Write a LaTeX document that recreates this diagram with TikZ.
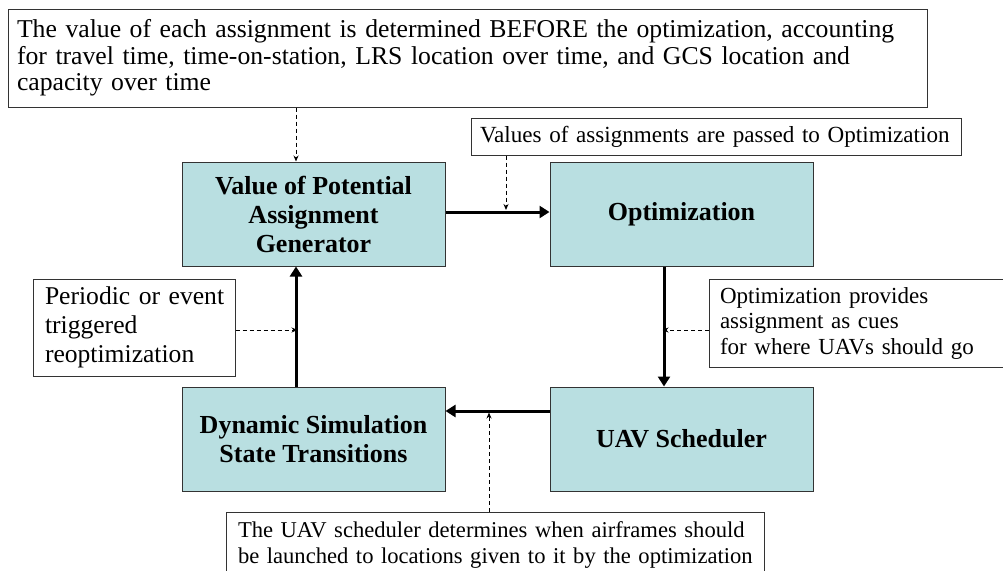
\documentclass[tikz,border=0pt]{standalone}
\usepackage{fontspec}
\setmainfont{Liberation Serif}
\usetikzlibrary{arrows.meta}
\definecolor{boxfill}{HTML}{B9DFE1}
\definecolor{edge}{HTML}{333333}
\begin{document}
\begin{tikzpicture}[x=1pt,y=-1pt,
  mainbox/.style={draw=edge,line width=1pt,fill=boxfill,minimum width=263pt,minimum height=104pt,inner sep=0pt,align=center,font=\fontsize{26}{29}\selectfont\bfseries},
  note/.style={draw=edge,line width=1pt,fill=white,inner ysep=0pt,align=left},
  flow/.style={line width=3pt,-{Triangle[length=10pt,width=12pt]}},
  cue/.style={line width=1pt,dash pattern=on 4pt off 3pt,-{Stealth[length=6pt,width=5pt]}}]
\useasboundingbox (0,0) rectangle (1003,570);
% main boxes
\node[mainbox] (value) at (313.5,214) {Value of Potential\\Assignment\\Generator};
\node[mainbox] (opt) at (681.5,214) {Optimization};
\node[mainbox] (dyn) at (313.5,439) {Dynamic Simulation\\State Transitions};
\node[mainbox] (uav) at (681.5,439) {UAV Scheduler};
% notes
\node[note,inner xsep=9pt,text width=901pt,minimum height=98pt,font=\fontsize{25.7}{26.5}\selectfont] (top) at (467.5,58)
 {\mbox{The value of each assignment is determined BEFORE the optimization, accounting}\\\mbox{for travel time, time-on-station, LRS location over time, and GCS location and}\\\mbox{capacity over time}};
\node[note,inner xsep=9pt,text width=472pt,minimum height=37pt,font=\fontsize{23.1}{26}\selectfont] (vals) at (716,136.5)
 {\mbox{Values of assignments are passed to Optimization}};
\node[note,inner xsep=12pt,text width=178pt,minimum height=97pt,font=\fontsize{25.6}{29}\selectfont] (per) at (134,327.5)
 {\rule{0pt}{8pt}\mbox{Periodic or event}\\\mbox{triggered}\\\mbox{reoptimization}};
\node[note,inner xsep=11pt,text width=280pt,minimum height=88pt,font=\fontsize{23}{25.5}\selectfont] (prov) at (860,323)
 {\mbox{Optimization provides}\\\mbox{assignment as cues}\\\mbox{for where UAVs should go}};
\node[note,inner xsep=12pt,text width=514pt,minimum height=66pt,font=\fontsize{22.6}{25.6}\selectfont] (sched) at (495,545)
 {\mbox{The UAV scheduler determines when airframes should}\\\mbox{be launched to locations given to it by the optimization}};
% flow arrows
\draw[flow] (value.east |- 0,212) -- (opt.west |- 0,212);
\draw[flow] (opt.south -| 664,0) -- (uav.north -| 664,0);
\draw[flow] (uav.west |- 0,411) -- (dyn.east |- 0,411);
\draw[flow] (dyn.north -| 296,0) -- (value.south -| 296,0);
% cue arrows
\coordinate (c1) at (506,210);
\coordinate (c2) at (297.5,330);
\coordinate (c3) at (662.5,330);
\coordinate (c4) at (489,412.5);
\draw[cue] (top.south -| 296,0) -- (value.north -| 296,0);
\draw[cue] (vals.south -| 506,0) -- (c1);
\draw[cue] (per.east |- c2) -- (c2);
\draw[cue] (prov.west |- c3) -- (c3);
\draw[cue] (sched.north -| c4) -- (c4);
\end{tikzpicture}
\end{document}
